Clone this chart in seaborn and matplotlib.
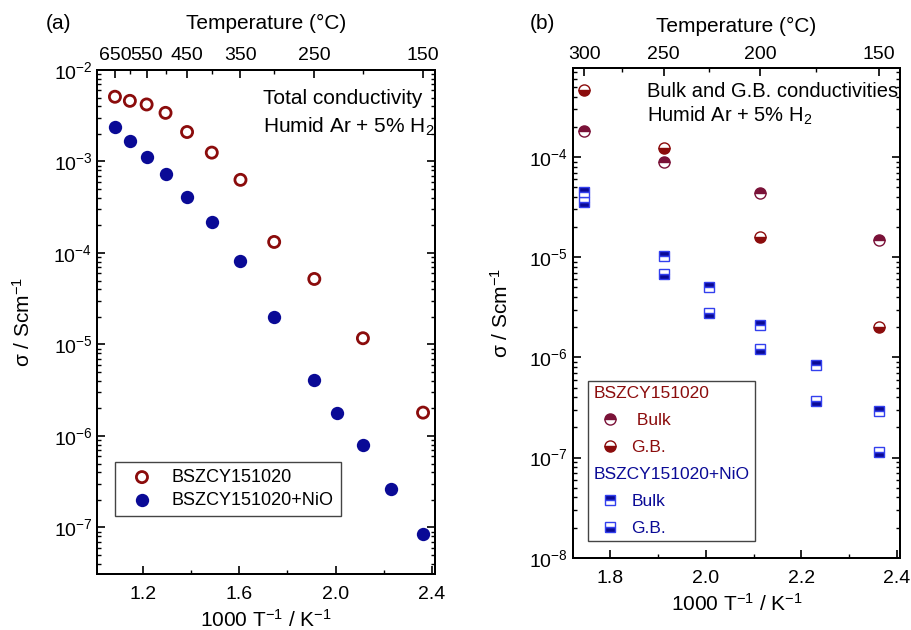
import matplotlib
matplotlib.use("Agg")
import matplotlib.pyplot as plt
from matplotlib.lines import Line2D
from matplotlib.ticker import FixedLocator, LogLocator, NullFormatter, FormatStrFormatter
import seaborn as sns
import numpy as np
import pandas as pd


# (a) total conductivity, measuring temperatures in degC
temp_a_pure = [650, 600, 550, 500, 450, 400, 350, 300, 250, 200, 150]
sigma_a_pure = [5.1e-3, 4.6e-3, 4.2e-3, 3.4e-3, 2.1e-3, 1.25e-3, 6.3e-4,
                1.32e-4, 5.2e-5, 1.17e-5, 1.8e-6]
temp_a_nio = [650, 600, 550, 500, 450, 400, 350, 300, 250, 225, 200, 175, 150]
sigma_a_nio = [2.4e-3, 1.68e-3, 1.13e-3, 7.3e-4, 4.1e-4, 2.2e-4, 8.1e-5,
               2.0e-5, 4.1e-6, 1.8e-6, 7.9e-7, 2.6e-7, 8.4e-8]

# (b) bulk and grain boundary conductivities
temp_b_pure = [300, 250, 200, 150]
bulk_b_pure = [1.82e-4, 8.9e-5, 4.4e-5, 1.49e-5]
gb_b_pure = [4.7e-4, 1.24e-4, 1.61e-5, 2.0e-6]
temp_b_nio = [300, 250, 225, 200, 175, 150]
bulk_b_nio = [4.5e-5, 1.04e-5, 5.0e-6, 2.1e-6, 8.3e-7, 2.9e-7]
gb_b_nio = [3.6e-5, 6.8e-6, 2.8e-6, 1.2e-6, 3.7e-7, 1.14e-7]

temp_major_a = [650, 550, 450, 350, 250, 150]
temp_minor_a = [600, 500, 400, 300, 200]
temp_major_b = [300, 250, 200, 150]
temp_minor_b = [275, 225, 175]

RED = "#8b0c0c"
RED_BULK = "#7a1238"
BLUE = "#0a0a96"
BLUE_EDGE = "#3340ee"


def inv_t(temps):
    return 1000.0 / (np.asarray(temps, dtype=float) + 273.15)


sns.set_theme(style="ticks")
plt.rcParams["font.family"] = ["Liberation Sans", "DejaVu Sans"]
plt.rcParams.update({
    "mathtext.fontset": "custom",
    "mathtext.rm": "Liberation Sans",
    "mathtext.it": "Liberation Sans:italic",
    "mathtext.bf": "Liberation Sans:bold",
    "text.color": "black",
    "axes.labelcolor": "black",
    "axes.edgecolor": "black",
    "axes.linewidth": 1.4,
    "xtick.color": "black",
    "ytick.color": "black",
    "xtick.direction": "in",
    "ytick.direction": "in",
    "xtick.major.size": 5.5,
    "ytick.major.size": 5.5,
    "xtick.minor.size": 3,
    "ytick.minor.size": 3,
    "xtick.major.width": 1.2,
    "ytick.major.width": 1.2,
    "xtick.minor.width": 1.0,
    "ytick.minor.width": 1.0,
    "xtick.labelsize": 14,
    "ytick.labelsize": 14,
    "axes.labelsize": 15,
})


def style_axes(ax, xlim, ylim, xmajor, xminor, tmajor, tminor, ylabelpad, toplabelpad):
    ax.set_yscale("log")
    ax.set_xlim(*xlim)
    ax.set_ylim(*ylim)
    ax.xaxis.set_major_locator(FixedLocator(xmajor))
    ax.xaxis.set_minor_locator(FixedLocator(xminor))
    ax.xaxis.set_major_formatter(FormatStrFormatter("%.1f"))
    ax.yaxis.set_major_locator(LogLocator(base=10, numticks=20))
    ax.yaxis.set_minor_locator(LogLocator(base=10, subs=np.arange(2, 10), numticks=100))
    ax.yaxis.set_minor_formatter(NullFormatter())
    ax.tick_params(axis="y", which="both", left=True, right=True)
    ax.tick_params(axis="x", which="both", bottom=True, top=False, pad=9)
    ax.set_xlabel("1000 T$^{-1}$ / K$^{-1}$", labelpad=4)
    ax.set_ylabel("σ / Scm$^{-1}$", labelpad=ylabelpad)

    top = ax.twiny()
    top.set_xlim(ax.get_xlim())
    top.xaxis.set_major_locator(FixedLocator(inv_t(tmajor)))
    top.xaxis.set_minor_locator(FixedLocator(inv_t(tminor)))
    top.set_xticklabels([str(t) for t in tmajor])
    top.tick_params(axis="x", which="both", top=True, bottom=False, pad=4)
    top.set_xlabel("Temperature (°C)", labelpad=toplabelpad)
    return top


fig = plt.figure(figsize=(9.12, 6.30), dpi=100)
ax_a = fig.add_axes([0.1067, 0.0889, 0.3703, 0.8])
ax_b = fig.add_axes([0.628, 0.1148, 0.359, 0.7768])

# ---- panel (a)
df_pure = pd.DataFrame({"x": inv_t(temp_a_pure), "sigma": sigma_a_pure})
df_nio = pd.DataFrame({"x": inv_t(temp_a_nio), "sigma": sigma_a_nio})
sns.scatterplot(data=df_pure, x="x", y="sigma", ax=ax_a, marker="o", s=64,
                color=RED, facecolor="none", edgecolor=RED, linewidth=2.0,
                label="BSZCY151020", zorder=3)
sns.scatterplot(data=df_nio, x="x", y="sigma", ax=ax_a, marker="o", s=92,
                color=BLUE, edgecolor=BLUE, linewidth=0,
                label="BSZCY151020+NiO", zorder=3)
style_axes(ax_a, (1.01, 2.413), (3.1e-8, 1e-2), [1.2, 1.6, 2.0, 2.4],
           [1.4, 1.8, 2.2], temp_major_a, temp_minor_a, 14, 13)

leg_a = ax_a.legend(loc="lower left", bbox_to_anchor=(0.052, 0.115),
                    borderaxespad=0, fontsize=13, frameon=True, fancybox=False,
                    edgecolor="#444444", framealpha=1, borderpad=0.4,
                    handlelength=2.2, handletextpad=0.55, labelspacing=0.33)
leg_a.get_frame().set_linewidth(1.0)

ax_a.text(0.491, 0.9425, "Total conductivity", transform=ax_a.transAxes,
          ha="left", va="center", fontsize=15)
ax_a.text(0.491, 0.8875, "Humid Ar + 5% H$_2$", transform=ax_a.transAxes,
          ha="left", va="center", fontsize=15)

# ---- panel (b)
x_pure = inv_t(temp_b_pure)
x_nio = inv_t(temp_b_nio)
ax_b.plot(x_pure, gb_b_pure, ls="none", marker="o", ms=8, fillstyle="bottom",
          color=RED, mec=RED, markerfacecoloralt="white", mew=1.0, zorder=3)
ax_b.plot(x_pure, bulk_b_pure, ls="none", marker="o", ms=8, fillstyle="top",
          color=RED_BULK, mec=RED_BULK, markerfacecoloralt="white", mew=1.0, zorder=3)
ax_b.plot(x_nio, gb_b_nio, ls="none", marker="s", ms=7, fillstyle="bottom",
          color=BLUE, mec=BLUE_EDGE, markerfacecoloralt="white", mew=1.0, zorder=3)
ax_b.plot(x_nio, bulk_b_nio, ls="none", marker="s", ms=7, fillstyle="top",
          color=BLUE, mec=BLUE_EDGE, markerfacecoloralt="white", mew=1.0, zorder=3)
style_axes(ax_b, (1.721, 2.407), (1e-8, 7.7e-4), [1.8, 2.0, 2.2, 2.4],
           [1.9, 2.1, 2.3], temp_major_b, temp_minor_b, 12, 10)

legend_labels = ["BSZCY151020", " Bulk", "G.B.", "BSZCY151020+NiO", "Bulk", "G.B."]
legend_colors = [RED, RED, RED, BLUE, BLUE, BLUE]
is_header = [True, False, False, True, False, False]
legend_handles = [
    Line2D([], [], ls="none"),
    Line2D([], [], ls="none", marker="o", ms=8, fillstyle="top", color=RED_BULK,
           mec=RED_BULK, markerfacecoloralt="white", mew=1.0),
    Line2D([], [], ls="none", marker="o", ms=8, fillstyle="bottom", color=RED,
           mec=RED, markerfacecoloralt="white", mew=1.0),
    Line2D([], [], ls="none"),
    Line2D([], [], ls="none", marker="s", ms=7, fillstyle="top", color=BLUE,
           mec=BLUE_EDGE, markerfacecoloralt="white", mew=1.0),
    Line2D([], [], ls="none", marker="s", ms=7, fillstyle="bottom", color=BLUE,
           mec=BLUE_EDGE, markerfacecoloralt="white", mew=1.0),
]
leg_b = ax_b.legend(legend_handles, legend_labels, loc="lower left",
                    bbox_to_anchor=(0.047, 0.034), borderaxespad=0, fontsize=12.5,
                    frameon=True, fancybox=False, edgecolor="#444444", framealpha=1,
                    borderpad=0.3, handlelength=1.9, handletextpad=0.3,
                    labelspacing=0.68)
leg_b.get_frame().set_linewidth(1.0)
rows = leg_b._legend_handle_box.get_children()[0].get_children()
for row, txt, color, head in zip(rows, leg_b.get_texts(), legend_colors, is_header):
    txt.set_color(color)
    if head:
        row.get_children()[0].width = 0
        row.sep = 0

ax_b.text(0.226, 0.952, "Bulk and G.B. conductivities", transform=ax_b.transAxes,
          ha="left", va="center", fontsize=14.5)
ax_b.text(0.226, 0.9025, "Humid Ar + 5% H$_2$", transform=ax_b.transAxes,
          ha="left", va="center", fontsize=14.5)

fig.text(0.0636, 0.962, "(a)", ha="center", va="center", fontsize=15)
fig.text(0.595, 0.962, "(b)", ha="center", va="center", fontsize=15)

fig.savefig("out.png", dpi=100)
